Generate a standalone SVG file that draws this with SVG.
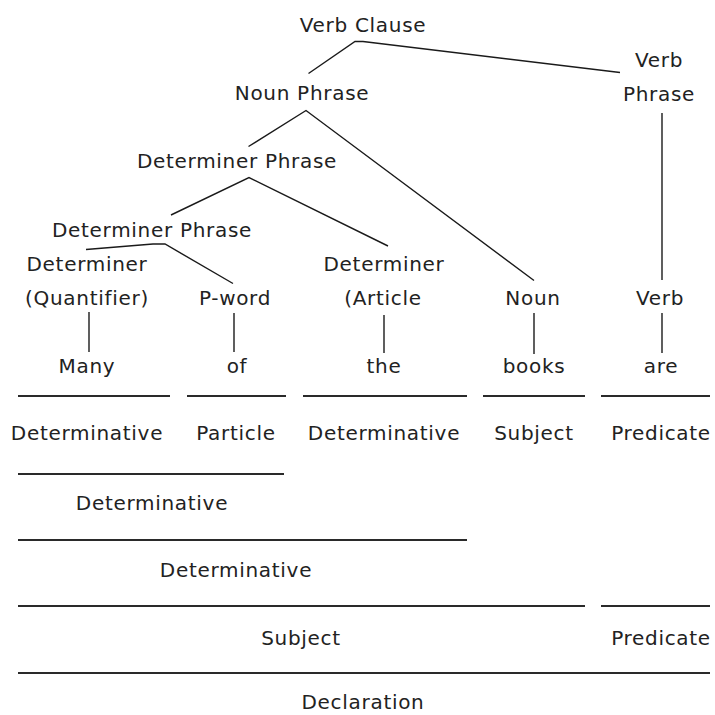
<svg xmlns="http://www.w3.org/2000/svg" width="715" height="715" viewBox="0 0 715 715">
<style>
text{font-family:"DejaVu Sans","Liberation Sans",sans-serif;font-size:20px;letter-spacing:0.7px;fill:#222;text-anchor:middle}
.c{fill:none;stroke:#1a1a1a;stroke-width:1.4;stroke-linejoin:miter}
.h{stroke:#2a2a2a;stroke-width:2.2}
</style>
<rect width="715" height="715" fill="#fff"/>
<g id="connectors">
<polyline class="c" points="308.5,73.5 355,41.5 363,41.5 620,72.5"/>
<polyline class="c" points="248.5,146.5 306,110.5 534,280.5"/>
<polyline class="c" points="171,215 249,177.5 388,246"/>
<polyline class="c" points="86,249.5 153,244 165,244 233,283.5"/>
<line class="c" x1="662" y1="113" x2="662" y2="280"/>
<line class="c" x1="89" y1="312" x2="89" y2="352"/>
<line class="c" x1="234" y1="313" x2="234" y2="352"/>
<line class="c" x1="384" y1="315" x2="384" y2="353"/>
<line class="c" x1="534" y1="313" x2="534" y2="354"/>
<line class="c" x1="662" y1="313" x2="662" y2="353"/>
</g>
<g id="brackets">
<line class="h" x1="18" y1="396" x2="170" y2="396"/>
<line class="h" x1="187" y1="396" x2="286" y2="396"/>
<line class="h" x1="303" y1="396" x2="467" y2="396"/>
<line class="h" x1="483" y1="396" x2="585" y2="396"/>
<line class="h" x1="601" y1="396" x2="710" y2="396"/>
<line class="h" x1="18" y1="474" x2="284" y2="474"/>
<line class="h" x1="18" y1="540" x2="467" y2="540"/>
<line class="h" x1="18" y1="606" x2="585" y2="606"/>
<line class="h" x1="601" y1="606" x2="710" y2="606"/>
<line class="h" x1="18" y1="673" x2="710" y2="673"/>
</g>
<g id="verb-clause"><text x="363" y="32">Verb Clause</text></g>
<g id="verb-phrase"><text x="659" y="67">Verb</text><text x="659" y="101">Phrase</text></g>
<g id="noun-phrase"><text x="302" y="100">Noun Phrase</text></g>
<g id="determiner-phrase-1"><text x="237" y="168">Determiner Phrase</text></g>
<g id="determiner-phrase-2"><text x="152" y="237">Determiner Phrase</text></g>
<g id="determiner-quantifier"><text x="87" y="271">Determiner</text><text x="87" y="305">(Quantifier)</text></g>
<g id="p-word"><text x="235" y="305">P-word</text></g>
<g id="determiner-article"><text x="384" y="271">Determiner</text><text x="383" y="305">(Article</text></g>
<g id="noun"><text x="533" y="305">Noun</text></g>
<g id="verb"><text x="660" y="305">Verb</text></g>
<g id="many"><text x="87" y="373">Many</text></g>
<g id="of"><text x="237" y="373">of</text></g>
<g id="the"><text x="384" y="373">the</text></g>
<g id="books"><text x="534" y="373">books</text></g>
<g id="are"><text x="661" y="373">are</text></g>
<g id="label-determinative-1"><text x="87" y="440">Determinative</text></g>
<g id="label-particle"><text x="236" y="440">Particle</text></g>
<g id="label-determinative-2"><text x="384" y="440">Determinative</text></g>
<g id="label-subject-1"><text x="534" y="440">Subject</text></g>
<g id="label-predicate-1"><text x="661" y="440">Predicate</text></g>
<g id="label-determinative-3"><text x="152" y="510">Determinative</text></g>
<g id="label-determinative-4"><text x="236" y="577">Determinative</text></g>
<g id="label-subject-2"><text x="301" y="645">Subject</text></g>
<g id="label-predicate-2"><text x="661" y="645">Predicate</text></g>
<g id="label-declaration"><text x="363" y="709">Declaration</text></g>
</svg>
